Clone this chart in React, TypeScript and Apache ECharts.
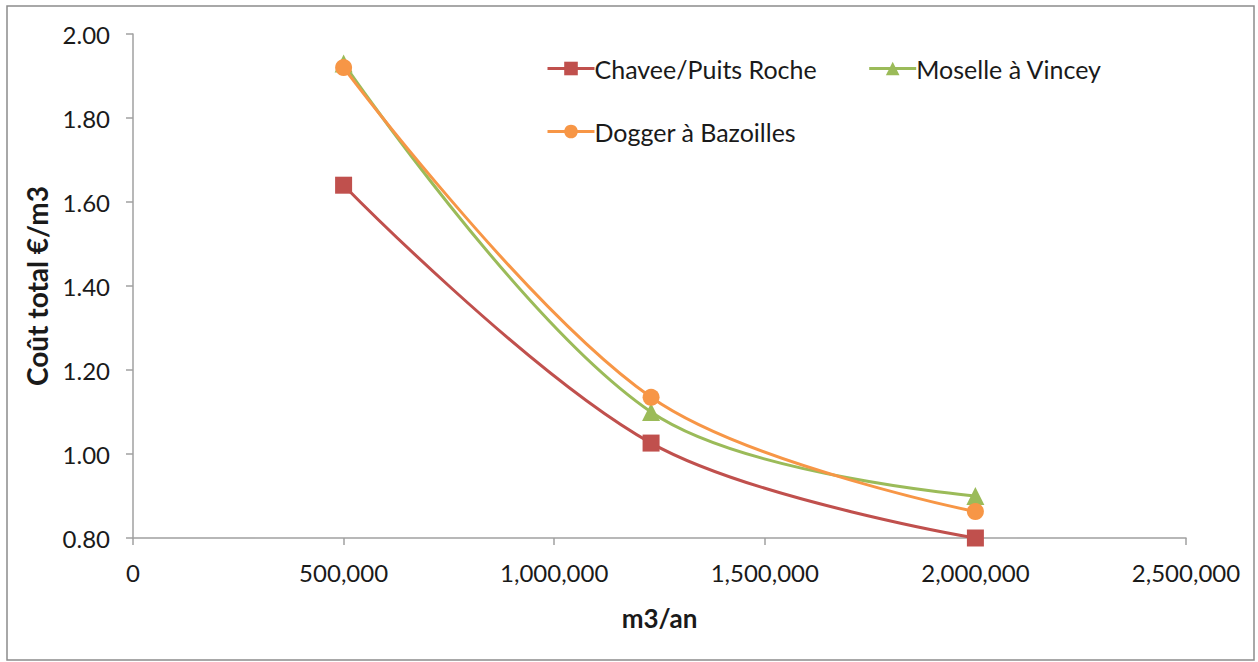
import React, { useEffect, useRef } from "react";
import * as echarts from "echarts";

const xValues = [500000, 1230000, 2000000];
const chaveeValues = [1.64, 1.026, 0.8];
const moselleValues = [1.93, 1.1, 0.9];
const doggerValues = [1.92, 1.135, 0.863];
const seriesNames = ["Chavee/Puits Roche", "Moselle à Vincey", "Dogger à Bazoilles"];
const xAxisTitle = "m3/an";
const yAxisTitle = "Coût total €/m3";

const FONT = "Lato, 'Open Sans', sans-serif";

export default function App() {
  const ref = useRef<HTMLDivElement>(null);
  useEffect(() => {
    if (!ref.current) return;
    const chart = echarts.init(ref.current, undefined, { renderer: "svg" });
    const mk = (vals: number[]) => xValues.map((x, i) => [x, vals[i]]);
    const colors = ["#C0504D", "#9BBB59", "#F79646"];
    const symbols = ["rect", "triangle", "circle"];
    const data = [chaveeValues, moselleValues, doggerValues];
    const legendBase = {
      left: 541,
      itemGap: 51,
      itemWidth: 47,
      itemHeight: 17,
      lineStyle: { width: 3 },
      textStyle: { fontFamily: FONT, fontSize: 25, color: "#1a1a1a", padding: [0, 0, 0, -5] },
    };
    chart.setOption({
      animation: false,
      backgroundColor: "#ffffff",
      textStyle: { fontFamily: FONT },
      graphic: [
        {
          type: "rect",
          shape: { x: 7, y: 6, width: 1247, height: 654 },
          style: { fill: "none", stroke: "#8c8c8c", lineWidth: 1.5 },
          silent: true,
        },
      ],
      grid: { left: 133, right: 72, top: 34, bottom: 124 },
      legend: [
        { ...legendBase, top: 51, data: [seriesNames[0], seriesNames[1]] },
        { ...legendBase, top: 114, data: [seriesNames[2]] },
      ],
      xAxis: {
        type: "value",
        min: 0,
        max: 2500000,
        interval: 500000,
        name: xAxisTitle,
        nameLocation: "middle",
        nameGap: 67,
        nameTextStyle: { fontFamily: FONT, fontSize: 26, fontWeight: "bold", color: "#1a1a1a" },
        axisLine: { show: true, lineStyle: { color: "#a0a0a0", width: 1.5 } },
        axisTick: { show: true, length: 7, lineStyle: { color: "#a0a0a0", width: 1.5 } },
        axisLabel: {
          margin: 22,
          fontSize: 24,
          color: "#1a1a1a",
          fontFamily: FONT,
          formatter: (v: number) => v.toLocaleString("en-US"),
        },
        splitLine: { show: false },
      },
      yAxis: {
        type: "value",
        min: 0.8,
        max: 2.0,
        interval: 0.2,
        name: yAxisTitle,
        nameLocation: "middle",
        nameGap: 82,
        nameTextStyle: { fontFamily: FONT, fontSize: 28, fontWeight: "bold", color: "#1a1a1a" },
        axisLine: { show: true, lineStyle: { color: "#a0a0a0", width: 1.5 } },
        axisTick: { show: true, length: 7, lineStyle: { color: "#a0a0a0", width: 1.5 } },
        axisLabel: {
          margin: 23,
          fontSize: 24,
          color: "#1a1a1a",
          fontFamily: FONT,
          formatter: (v: number) => v.toFixed(2),
        },
        splitLine: { show: false },
      },
      series: seriesNames.map((name, i) => ({
        name,
        type: "line",
        data: mk(data[i]),
        smooth: 0.35,
        symbol: symbols[i],
        symbolSize: i === 1 ? 18 : 17,
        showSymbol: true,
        lineStyle: { color: colors[i], width: 3 },
        itemStyle: { color: colors[i] },
      })),
    });
    return () => chart.dispose();
  }, []);
  return (
    <div
      ref={ref}
      style={{ position: "fixed", left: 0, top: 0, width: 1258, height: 662 }}
    />
  );
}
